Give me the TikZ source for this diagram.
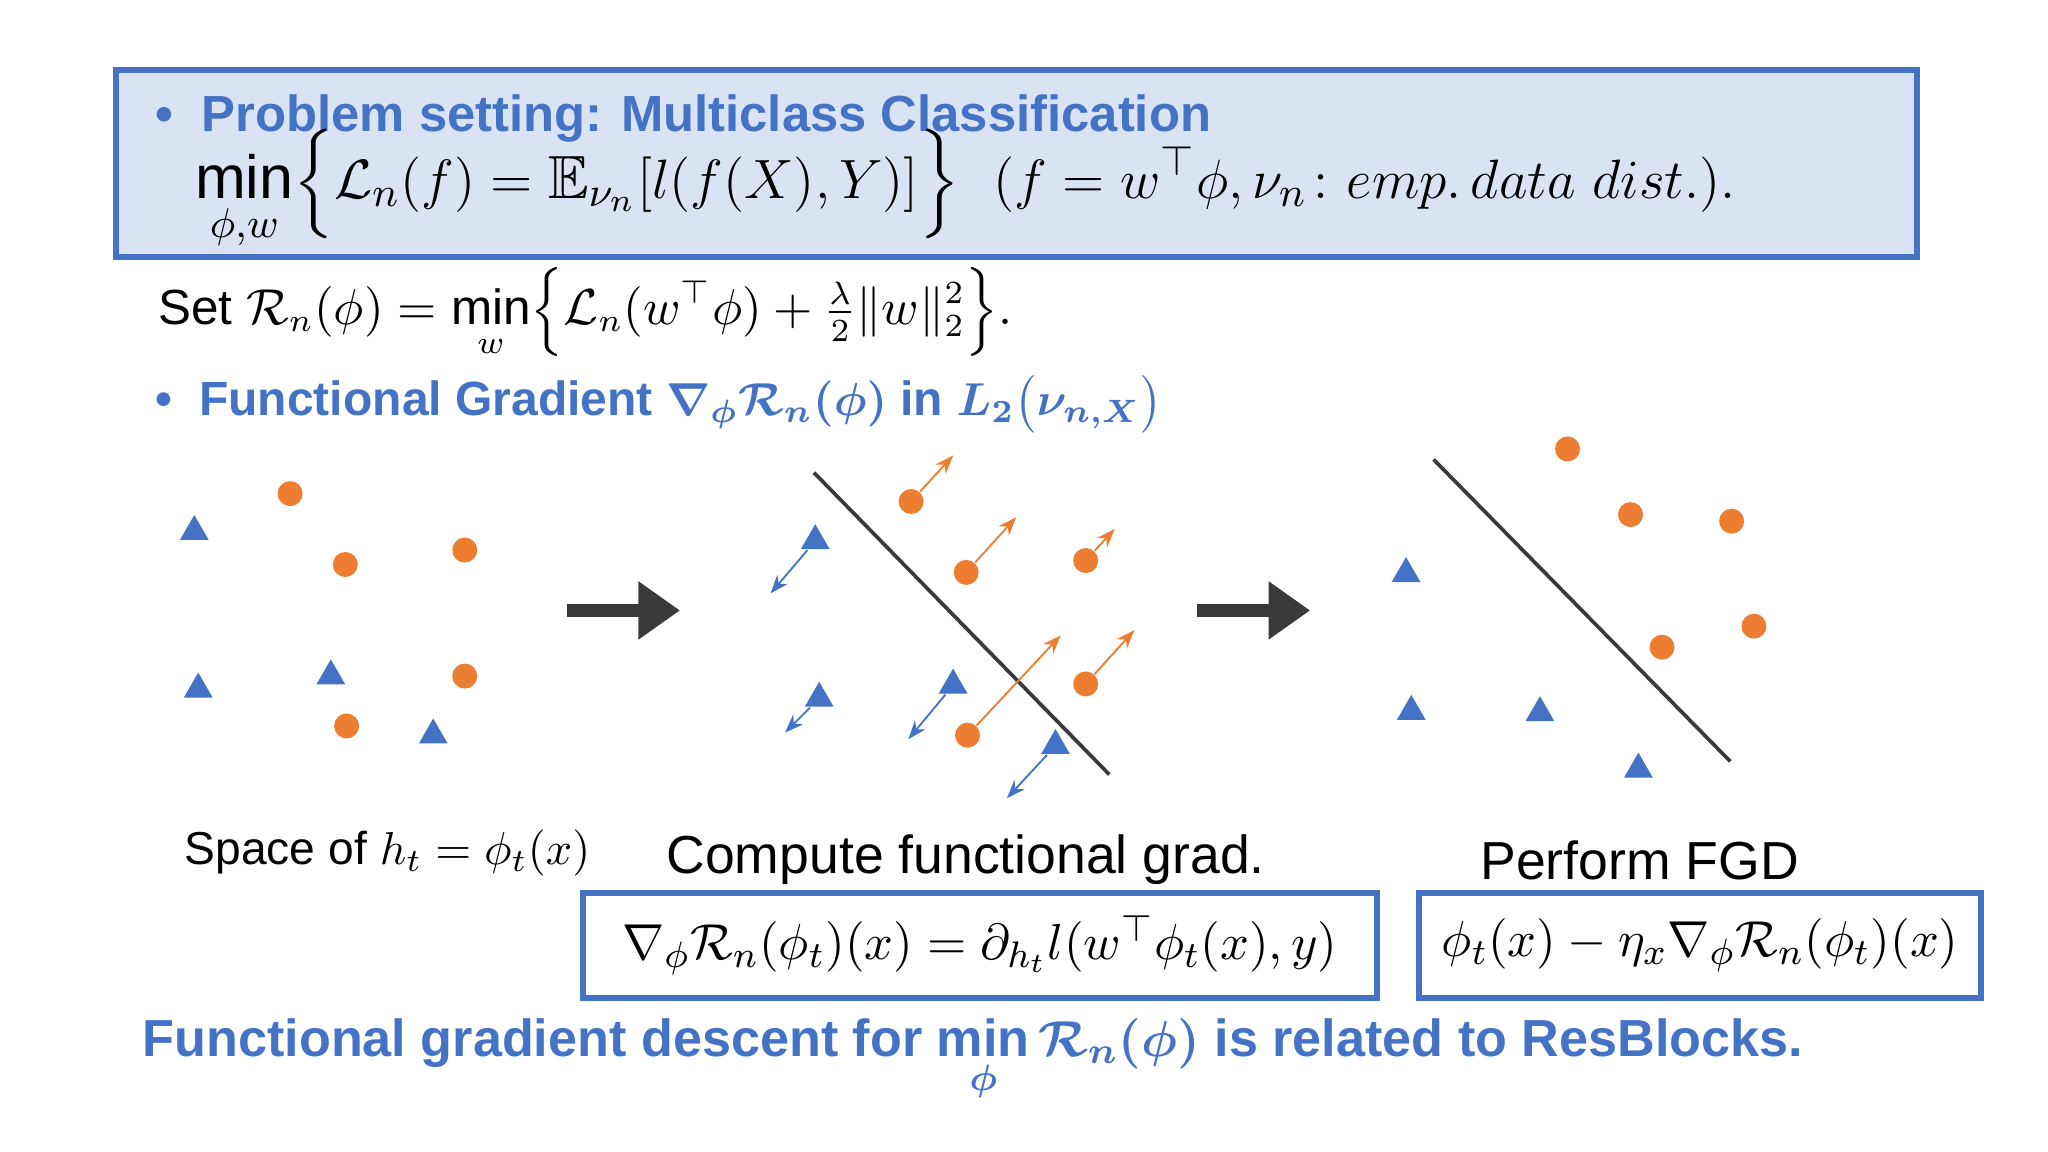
\documentclass[tikz,border=0pt]{standalone}
\usepackage{fontspec}
\usepackage{amsmath,amssymb,bm}
\setmainfont{Liberation Sans}
\usetikzlibrary{shapes.geometric,arrows.meta}
\definecolor{hdblue}{HTML}{4472C4}
\definecolor{boxfill}{HTML}{DAE3F3}
\definecolor{dotorange}{HTML}{ED7D31}
\definecolor{arrgray}{HTML}{3A3A3A}
\begin{document}
\begin{tikzpicture}[x=0.01cm, y=-0.01cm]
    \tikzstyle{dot}=[circle, minimum size=0.19cm, inner sep=0pt, fill=dotorange]  % orange class
    \tikzstyle{tri}=[isosceles triangle, shape border rotate=90, isosceles triangle apex angle=60, minimum size=0.19cm, inner sep=0pt, fill=hdblue]
    \tikzstyle{ograd}=[draw=dotorange, thin, -{Stealth[length=4pt]}]
    \tikzstyle{bgrad}=[draw=hdblue, thin, -{Stealth[length=4pt]}]
    \tikzstyle{stepar}=[draw=arrgray, line width=3pt, -{Triangle[length=9pt,width=12pt]}]
    \tikzstyle{head}=[text=hdblue, font=\fontsize{11}{13}\selectfont\bfseries, anchor=west, inner sep=0pt]
    \tikzstyle{fbox}=[draw=hdblue, line width=1.3pt, inner sep=0pt]
    \tikzstyle{capt}=[font=\fontsize{10}{12}\selectfont, anchor=west, inner sep=0pt]

    \useasboundingbox (0,0) rectangle (1560,877);
    \fill[white] (0,0) rectangle (1560,877);

    % Problem setting box
    \draw[fbox, fill=boxfill] (88,53) rectangle (1460,196);
    \node[head] (ps) at (118,90) {\textbullet\ \ Problem setting: Multiclass Classification};
    \node[anchor=west, inner sep=0pt, font=\fontsize{13.2}{16}\selectfont] (obj) at (148,145)
        {$\displaystyle\min_{\phi,w}\Bigl\{\mathcal{L}_n(f)=\mathbb{E}_{\nu_n}[l(f(X),Y)]\Bigr\}\ \ (f=w^{\top}\phi,\nu_n\colon emp.\,data\ dist.).$};
    \node[anchor=west, inner sep=0pt, font=\fontsize{10.7}{13}\selectfont] (set) at (120,238)
        {Set $\displaystyle\mathcal{R}_n(\phi)=\min_{w}\Bigl\{\mathcal{L}_n(w^{\top}\phi)+\tfrac{\lambda}{2}\|w\|_2^2\Bigr\}.$};
    \node[head, font=\fontsize{10.4}{13}\selectfont\bfseries] (fg) at (118,308) {\textbullet\ \ Functional Gradient $\bm{\nabla_{\phi}\mathcal{R}_n(\phi)}$ in $\bm{L_2\bigl(\nu_{n,X}\bigr)}$};

    % Left: space of h_t
    \foreach \n/\x/\y in {1/148/405, 2/151/525, 3/252/515, 4/330/560}
        \node[tri] (la-\n) at (\x,\y) {};
    \foreach \n/\x/\y in {1/221/376, 2/263/430, 3/354/419, 4/354/515, 5/264/553}
        \node[dot] (lb-\n) at (\x,\y) {};

    \coordinate (s1a) at (432,465);
    \coordinate (s1b) at (518,465);
    \draw[stepar] (s1a) -- (s1b);

    % Middle: functional gradient
    \coordinate (ma) at (620,360);
    \coordinate (mb) at (845,590);
    \draw[thick, arrgray] (ma) -- (mb);
    \foreach \n/\x/\y/\u/\v in {1/621/412/587/452, 2/624/532/598/558, 3/726/522/692/563, 4/804/568/767/608} {
        \node[tri] (ma-\n) at (\x,\y) {};
        \coordinate (mae-\n) at (\u,\v);
        \draw[bgrad] (ma-\n) -- (mae-\n);
    }
    \foreach \n/\x/\y/\u/\v in {1/694/382/726/347, 2/736/436/774/394, 3/827/427/849/403, 4/827/521/864/480, 5/737/560/808/484} {
        \node[dot] (mb-\n) at (\x,\y) {};
        \coordinate (mbe-\n) at (\u,\v);
        \draw[ograd] (mb-\n) -- (mbe-\n);
    }

    \coordinate (s2a) at (912,465);
    \coordinate (s2b) at (998,465);
    \draw[stepar] (s2a) -- (s2b);

    % Right: after FGD
    \coordinate (ra) at (1092,350);
    \coordinate (rb) at (1318,580);
    \draw[thick, arrgray] (ra) -- (rb);
    \foreach \n/\x/\y in {1/1071/437, 2/1075/542, 3/1173/543, 4/1248/586}
        \node[tri] (ra-\n) at (\x,\y) {};
    \foreach \n/\x/\y in {1/1194/342, 2/1242/392, 3/1319/397, 4/1336/477, 5/1266/493}
        \node[dot] (rb-\n) at (\x,\y) {};

    % Captions and formulas
    \node[capt] (sp) at (140,650) {Space of $h_t=\phi_t(x)$};
    \node[capt, font=\fontsize{11.6}{14}\selectfont] (cg) at (507,655) {Compute functional grad.};
    \node[capt, font=\fontsize{11.6}{14}\selectfont] (pf) at (1127,655) {Perform FGD};
    \draw[fbox] (444,680) rectangle (1049,760);
    \node[font=\fontsize{11.4}{14}\selectfont] (gf) at (746.5,720) {$\nabla_{\phi}\mathcal{R}_n(\phi_t)(x)=\partial_{h_t}l(w^{\top}\phi_t(x),y)$};
    \draw[fbox] (1081,680) rectangle (1509,760);
    \node[font=\fontsize{11.4}{14}\selectfont] (uf) at (1295,720) {$\phi_t(x)-\eta_x\nabla_{\phi}\mathcal{R}_n(\phi_t)(x)$};

    \node[head, font=\fontsize{11.3}{14}\selectfont\bfseries] (concl) at (108,808)
        {Functional gradient descent for $\bm{\displaystyle\min_{\phi}\mathcal{R}_n(\phi)}$ is related to ResBlocks.};
\end{tikzpicture}
\end{document}
